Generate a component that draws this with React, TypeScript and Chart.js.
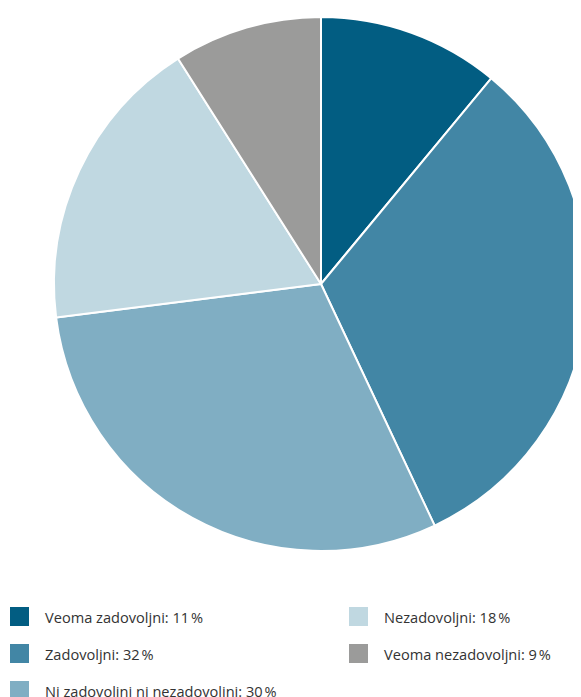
import React, { useEffect, useRef } from "react";
import { Chart, registerables } from "chart.js";

Chart.register(...registerables);

const categories = [
  "Veoma zadovoljni",
  "Zadovoljni",
  "Ni zadovoljni ni nezadovoljni",
  "Nezadovoljni",
  "Veoma nezadovoljni",
];
const values = [11, 32, 30, 18, 9];
const colors = ["#025d82", "#4286a5", "#80aec3", "#c0d8e1", "#9b9b9a"];
const legendColumns = [[0, 1, 2], [3, 4]];

export default function App() {
  const canvasRef = useRef<HTMLCanvasElement | null>(null);

  useEffect(() => {
    document.documentElement.style.overflow = "hidden";
    document.body.style.overflow = "hidden";
    if (!canvasRef.current) return;
    const chart = new Chart(canvasRef.current, {
      type: "pie",
      data: {
        labels: categories,
        datasets: [
          {
            data: values,
            backgroundColor: colors,
            borderColor: "#ffffff",
            borderWidth: 2,
            radius: 267,
            clip: false as any,
          },
        ],
      },
      options: {
        responsive: false,
        maintainAspectRatio: false,
        animation: false,
        layout: { padding: { left: 26, right: 0, top: 0, bottom: 0 } },
        plugins: {
          legend: { display: false },
          tooltip: { enabled: false },
        },
      },
    });
    return () => chart.destroy();
  }, []);

  return (
    <div
      style={{
        position: "relative",
        width: 600,
        height: 689,
        fontFamily: "'Open Sans', sans-serif",
      }}
    >
      <canvas
        ref={canvasRef}
        width={600}
        height={552}
        style={{ position: "absolute", left: 0, top: 0, width: 600, height: 552 }}
      />
      {legendColumns.map((col, ci) => (
        <div
          key={ci}
          style={{ position: "absolute", top: 599, left: 2 + ci * 339 }}
        >
          {col.map((i) => (
            <div
              key={i}
              style={{ display: "flex", alignItems: "center", height: 19, marginBottom: 18 }}
            >
              <span
                style={{
                  display: "inline-block",
                  width: 19,
                  height: 19,
                  background: colors[i],
                  marginRight: 16,
                  flex: "none",
                }}
              />
              <span style={{ fontSize: 14.6, color: "#333333", whiteSpace: "nowrap" }}>
                {categories[i]}: {values[i]}
                {"\u202F%"}
              </span>
            </div>
          ))}
        </div>
      ))}
    </div>
  );
}
